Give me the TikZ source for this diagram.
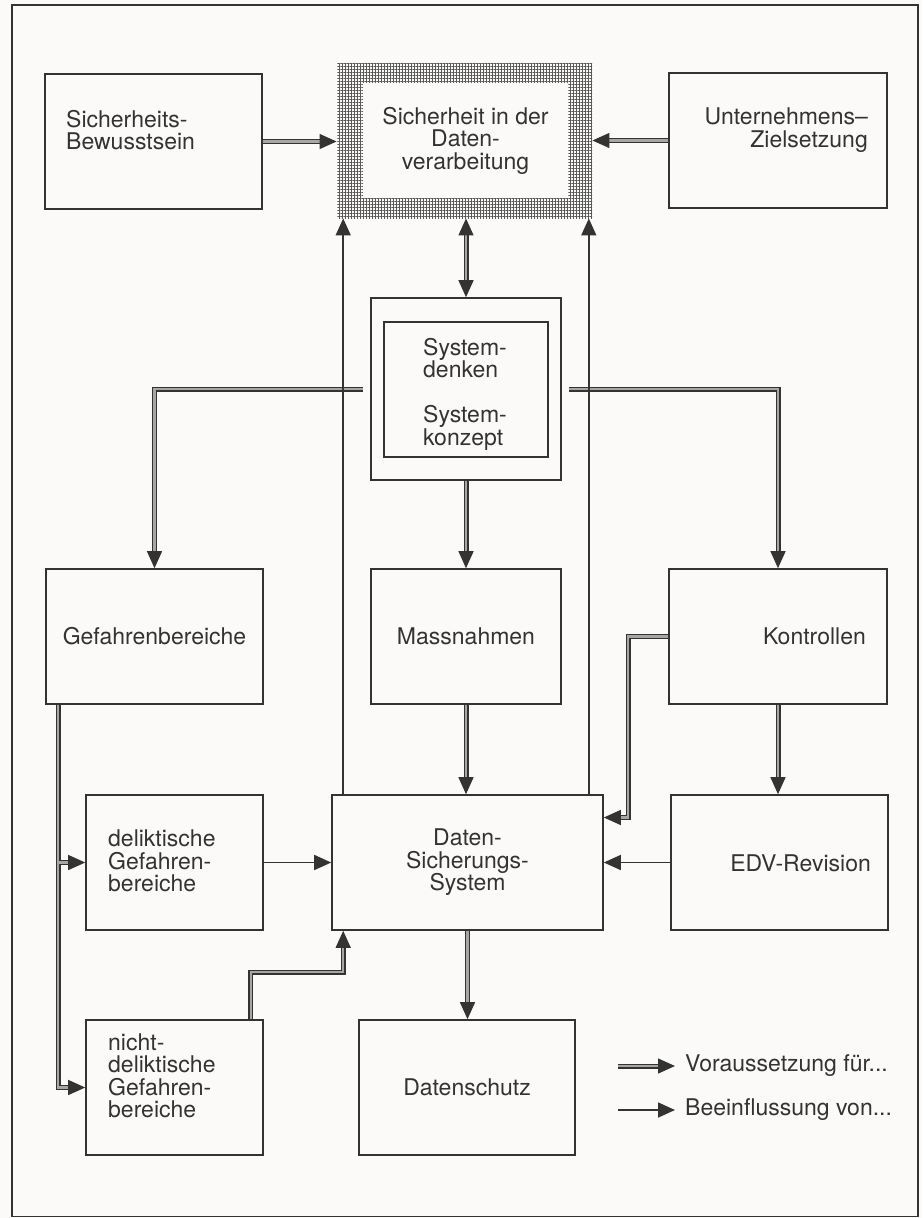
\documentclass[tikz,border=0pt]{standalone}
\usepackage{fontspec}
\setmainfont{TeX Gyre Heros}
\usepackage{xcolor}
\usepackage{tikz}
\usetikzlibrary{arrows.meta}
\usetikzlibrary{patterns,patterns.meta}
\usetikzlibrary{calc}
\definecolor{paper}{rgb}{0.985,0.98,0.975}
\definecolor{ink}{gray}{0.2}
\tikzset{
  box/.style={draw=ink, line width=1.6pt, fill=paper, inner sep=0pt, align=center,
    font=\fontsize{23}{22.5}\selectfont, text=ink},
  txt/.style={inner sep=0pt, font=\fontsize{23}{22.5}\selectfont, text=ink},
  hatchbox/.style={pattern={Hatch[distance=3pt,line width=0.9pt]}, pattern color=black!65, inner sep=0pt},
  prereq/.style={draw=ink, line width=1.3pt, double=black!35, double distance=2.4pt},
  infl/.style={draw=ink, line width=1.6pt}
}

\begin{document}
\begin{tikzpicture}[x=1pt,y=-1pt,>={Triangle[length=17pt,width=15pt]}]
\useasboundingbox[fill=paper] (0,0) rectangle (922,1218);
\draw[ink,line width=1.6pt] (12,5) rectangle (918,1216.5);

% top row
\node[box, minimum width=217, minimum height=135] (bew) at (153.5,141.5) {};
\node[txt, anchor=west, align=left] (bew-t) at (66,130) {Sicherheits-\\Bewusstsein};
\node[hatchbox, minimum width=255, minimum height=155] (sdv) at (464.5,140.5) {};
\node[box, draw=none, minimum width=205, minimum height=115] (sdv-in) at (465.5,140.5) {Sicherheit in der\\Daten-\\verarbeitung};
\node[box, minimum width=218, minimum height=135] (ziel) at (778,140.5) {};
\node[txt, anchor=east, align=right] (ziel-t) at (868,130) {Unternehmens--\\Zielsetzung};

\node[box, minimum width=190, minimum height=182] (sys) at (466,389) {};
\node[box, minimum width=164, minimum height=135] (sys-in) at (466,389.5) {};
\node[txt, anchor=west, align=left] (sys-t) at (423,394) {System-\\denken\\[22.5pt]System-\\konzept};

% middle row
\node[box, minimum width=217, minimum height=135] (gef) at (154.5,636.5) {Gefahrenbereiche};
\node[box, minimum width=190, minimum height=135] (mass) at (466,636.5) {Massnahmen};
\node[box, minimum width=218, minimum height=135] (kon) at (778,636.5) {};
\node[txt, anchor=east] (kon-t) at (866,636) {Kontrollen};

% lower rows
\node[box, minimum width=177, minimum height=135] (delik) at (174.5,862.5) {};
\node[txt, anchor=west, align=left] (delik-t) at (108,861) {deliktische\\Gefahren-\\bereiche};
\node[box, minimum width=271, minimum height=135] (dss) at (467.5,862.5) {Daten-\\Sicherungs-\\System};
\node[box, minimum width=217, minimum height=135] (edv) at (779.5,862.5) {};
\node[txt, anchor=east] (edv-t) at (871,863) {EDV-Revision};
\node[box, minimum width=177, minimum height=135] (nicht) at (174.5,1087.5) {};
\node[txt, anchor=west, align=left] (nicht-t) at (108,1076) {nicht-\\deliktische\\Gefahren-\\bereiche};
\node[box, minimum width=216, minimum height=135] (dschutz) at (467,1087.5) {Datenschutz};

% Voraussetzung
\draw[prereq,->] (bew.east) -- (bew.east -| sdv.west);
\draw[prereq,->] (ziel.west) -- (ziel.west -| sdv.east);
\draw[prereq,<->] (sys.north |- sdv.south) -- (sys.north);
\draw[prereq,->] ([xshift=-7pt]sys.west) -| (gef.north);
\draw[prereq,->] ([xshift=7pt]sys.east) -| (kon.north);
\foreach \a/\b in {sys/mass,mass/dss,kon/edv,dss/dschutz}
\draw[prereq,->] (\a.south) -- (\a.south |- \b.north);
\draw[prereq,->] ([xshift=13pt]gef.south west) |- (nicht.west);
\draw[prereq,->] ([xshift=14.2pt]gef.south west |- delik.west) -- (delik.west);
\draw[prereq,->] ([xshift=-13pt]nicht.north east) -- ++(0,-47) -| ([xshift=12pt]dss.south west);
\draw[prereq,->] (kon.west) -- ++(-40,0) |- ([yshift=45pt]dss.east);

% Beeinflussung
\draw[infl,->] (delik) -- (dss);
\draw[infl,->] (edv) -- (dss);
\draw[infl,->] ([xshift=12pt]dss.north west) -- ([xshift=12pt]dss.north west |- sdv.south);
\draw[infl,->] ([xshift=-15pt]dss.north east) -- ([xshift=-15pt]dss.north east |- sdv.south);

% legend
\coordinate (vor) at (618,1066);
\coordinate (bee) at (618,1110);
\node[txt, anchor=west] (vor-t) at (685,1066) {Voraussetzung für...};
\node[txt, anchor=west] (bee-t) at (685,1110) {Beeinflussung von...};
\draw[prereq,->] (vor) -- ([xshift=-10pt]vor-t.west);
\draw[infl,->] (bee) -- ([xshift=-10pt]bee-t.west);
\end{tikzpicture}
\end{document}
